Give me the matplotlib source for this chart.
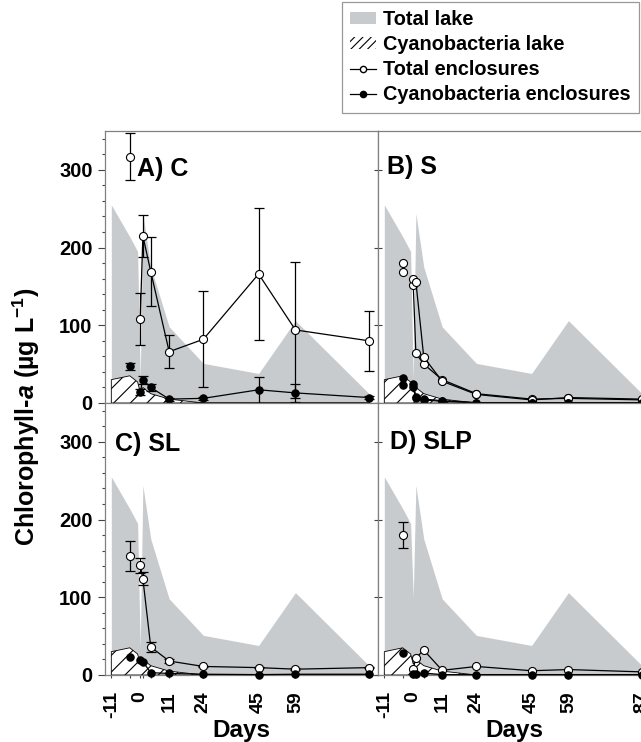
import matplotlib
matplotlib.use("Agg")
import matplotlib.pyplot as plt
from matplotlib.patches import Patch
from matplotlib.lines import Line2D

plt.rcParams['font.family'] = ['Liberation Sans', 'DejaVu Sans']
plt.rcParams['font.weight'] = 'bold'
plt.rcParams['mathtext.fontset'] = 'custom'
plt.rcParams['mathtext.rm'] = 'Liberation Sans:bold'
plt.rcParams['mathtext.it'] = 'Liberation Sans:italic:bold'
plt.rcParams['mathtext.bf'] = 'Liberation Sans:bold'
plt.rcParams['hatch.linewidth'] = 0.8

# lake (same sampling in every panel, except the day-0 dip)
lake_days = [-11, -4, -1, 0, 1, 4, 11, 24, 45, 59, 87]
lake_total = [255, 214, 195, 30, 244, 175, 98, 51, 38, 106, 12]
lake_cyano = [30, 35, 27, 14, 20, 12, 5, 0, 0, 0, 0]
lake_dip = [30, 30, 35, 100]

# enclosures
enc_days = [0, 1, 4, 11, 24, 45, 59, 87]
pre_day = -4

a_total = [108, 215, 169, 66, 82, 166, 94, 80]
a_total_err = [33, 27, 44, 21, 62, 85, 87, 39]
a_total_pre, a_total_pre_err = 317, 30
a_cyano = [14, 30, 20, 5, 6, 17, 13, 7]
a_cyano_err = [4, 5, 4, 2, 2, 17, 12, 2]
a_cyano_pre, a_cyano_pre_err = 47, 4

b_total_1 = [152, 64, 50, 30, 12, 5, 6, 4]
b_total_2 = [159, 156, 59, 28, 11, 4, 7, 5]
b_total_pre = [180, 168]
b_cyano_1 = [25, 8, 5, 3, 0.5, 0.5, 0.5, 0.5]
b_cyano_2 = [21, 6, 4, 2, 0.3, 0.3, 0.3, 0.3]
b_cyano_pre = [32, 23]

c_total = [141, 124, 36, 18, 11, 9.5, 7.5, 9.5]
c_total_err = [10, 8, 7, 2, 1, 1, 1, 1]
c_total_pre, c_total_pre_err = 153, 19
c_cyano = [19, 17, 3, 2, 1, 0.5, 1, 1]
c_cyano_pre = 23.5

d_total = [8, 22, 32, 6, 11, 5.5, 7, 4]
d_total_pre, d_total_pre_err = 180, 17
d_cyano = [1, 1, 2.5, 0.5, 0.5, 0.5, 0.5, 0.5]
d_cyano_pre = 28

panel_names = ['A) C', 'B) S', 'C) SL', 'D) SLP']
tick_days = [-11, -4, 0, 1, 4, 11, 24, 45, 59, 87]
tick_labels = ['-11', '', '0', '', '', '11', '24', '45', '59', '87']

GRAY = '#c8cbcd'
SPINE = '#808080'

fig = plt.figure(figsize=(6.41, 7.42), dpi=100)
W, H = 641, 742
aw, ah = 273 / W, 272 / H
lefts = [105 / W, 378 / W]
bottoms = [1 - 403 / H, 1 - 675 / H]
axes = []
for r in range(2):
    for c in range(2):
        axes.append(fig.add_axes([lefts[c], bottoms[r], aw, ah]))


def series(ax, days, vals, err=None, filled=False):
    if err is not None:
        ax.errorbar(days, vals, yerr=err, fmt='none', ecolor='k', elinewidth=0.9,
                    capsize=3.5, capthick=0.9, zorder=3)
    ax.plot(days, vals, '-o', color='k', lw=0.9, ms=5.8 if not filled else 5.3,
            mfc='k' if filled else 'white', mec='k', mew=0.8, clip_on=False, zorder=4)


for i, ax in enumerate(axes):
    tot = list(lake_total)
    tot[lake_days.index(0)] = lake_dip[i]
    ax.fill_between(lake_days, 0, tot, color=GRAY, lw=0, zorder=1)
    ax.fill_between(lake_days, 0, lake_cyano, facecolor='white', edgecolor='k',
                    hatch='//', lw=0.6, zorder=2)
    ax.set_xlim(-13.4, 90.4)
    ax.set_ylim(0, 350)
    for s in ax.spines.values():
        s.set_color(SPINE)
        s.set_linewidth(0.9)
    ax.set_xticks(tick_days)
    ax.set_yticks([0, 100, 200, 300])
    ax.tick_params(axis='x', direction='inout', length=5, width=0.8, color='#444',
                   labelsize=14, pad=9, labelrotation=90)
    if i % 2 == 0:
        ax.set_yticks(range(0, 351, 20), minor=True)
        ax.tick_params(axis='y', which='major', direction='out', length=5, width=0.8,
                       color='#444', labelsize=14.5, pad=4)
        ax.tick_params(axis='y', which='minor', direction='out', length=2.5, width=0.8,
                       color='#444')
    else:
        ax.tick_params(axis='y', direction='inout', length=6, width=0.8, color='#444',
                       labelleft=False)
    if i < 2:
        ax.set_xticklabels([])
    else:
        labels = list(tick_labels)
        if i == 2:
            labels[-1] = ''   # hidden under the right-hand panel in the original
        ax.set_xticklabels(labels)
        ax.set_xlabel('Days', fontsize=17.5, fontweight='bold', labelpad=1)
    for lab in ax.get_xticklabels() + ax.get_yticklabels():
        lab.set_fontweight('bold')

# A) C
ax = axes[0]
series(ax, enc_days, a_total, a_total_err)
series(ax, [pre_day], [a_total_pre], [a_total_pre_err])
series(ax, enc_days, a_cyano, a_cyano_err, filled=True)
series(ax, [pre_day], [a_cyano_pre], [a_cyano_pre_err], filled=True)

# B) S
ax = axes[1]
series(ax, enc_days, b_total_1)
series(ax, enc_days, b_total_2)
series(ax, [pre_day, pre_day], b_total_pre)
series(ax, enc_days, b_cyano_1, filled=True)
series(ax, enc_days, b_cyano_2, filled=True)
series(ax, [pre_day, pre_day], b_cyano_pre, filled=True)

# C) SL
ax = axes[2]
series(ax, enc_days, c_total, c_total_err)
series(ax, [pre_day], [c_total_pre], [c_total_pre_err])
series(ax, enc_days, c_cyano, filled=True)
series(ax, [pre_day], [c_cyano_pre], filled=True)

# D) SLP
ax = axes[3]
series(ax, enc_days, d_total)
series(ax, [pre_day], [d_total_pre], [d_total_pre_err])
series(ax, enc_days, d_cyano, filled=True)
series(ax, [pre_day], [d_cyano_pre], filled=True)

label_pos = [(0.117, 0.905), (0.032, 0.91), (0.037, 0.895), (0.044, 0.9)]
for ax, name, (lx, ly) in zip(axes, panel_names, label_pos):
    ax.text(lx, ly, name, transform=ax.transAxes, ha='left', va='top',
            fontsize=18, fontweight='bold', zorder=6)

fig.text(26 / W, 1 - 417 / H, 'Chlorophyll-$\\mathit{a}$ (µg L$^{-1}$)', rotation=90,
         ha='center', va='center', fontsize=18, fontweight='bold')

handles = [
    Patch(facecolor=GRAY, edgecolor='none', label='Total lake'),
    Patch(facecolor='white', edgecolor='k', hatch='////', lw=0, label='Cyanobacteria lake'),
    Line2D([0], [0], color='k', lw=0.9, marker='o', ms=4.5, mfc='white', mec='k',
           label='Total enclosures'),
    Line2D([0], [0], color='k', lw=0.9, marker='o', ms=4.5, mfc='k', mec='k',
           label='Cyanobacteria enclosures'),
]
leg = fig.legend(handles=handles, loc='upper right', bbox_to_anchor=(639 / W, 1 - 2 / H),
                 frameon=True, fancybox=False, fontsize=14.3, handlelength=1.3,
                 handleheight=0.55, handletextpad=0.35, labelspacing=0.3, borderpad=0.42,
                 borderaxespad=0)
leg.get_frame().set_edgecolor(SPINE)
leg.get_frame().set_linewidth(0.9)
for t in leg.get_texts():
    t.set_fontweight('bold')

fig.savefig('out.png', dpi=100)
